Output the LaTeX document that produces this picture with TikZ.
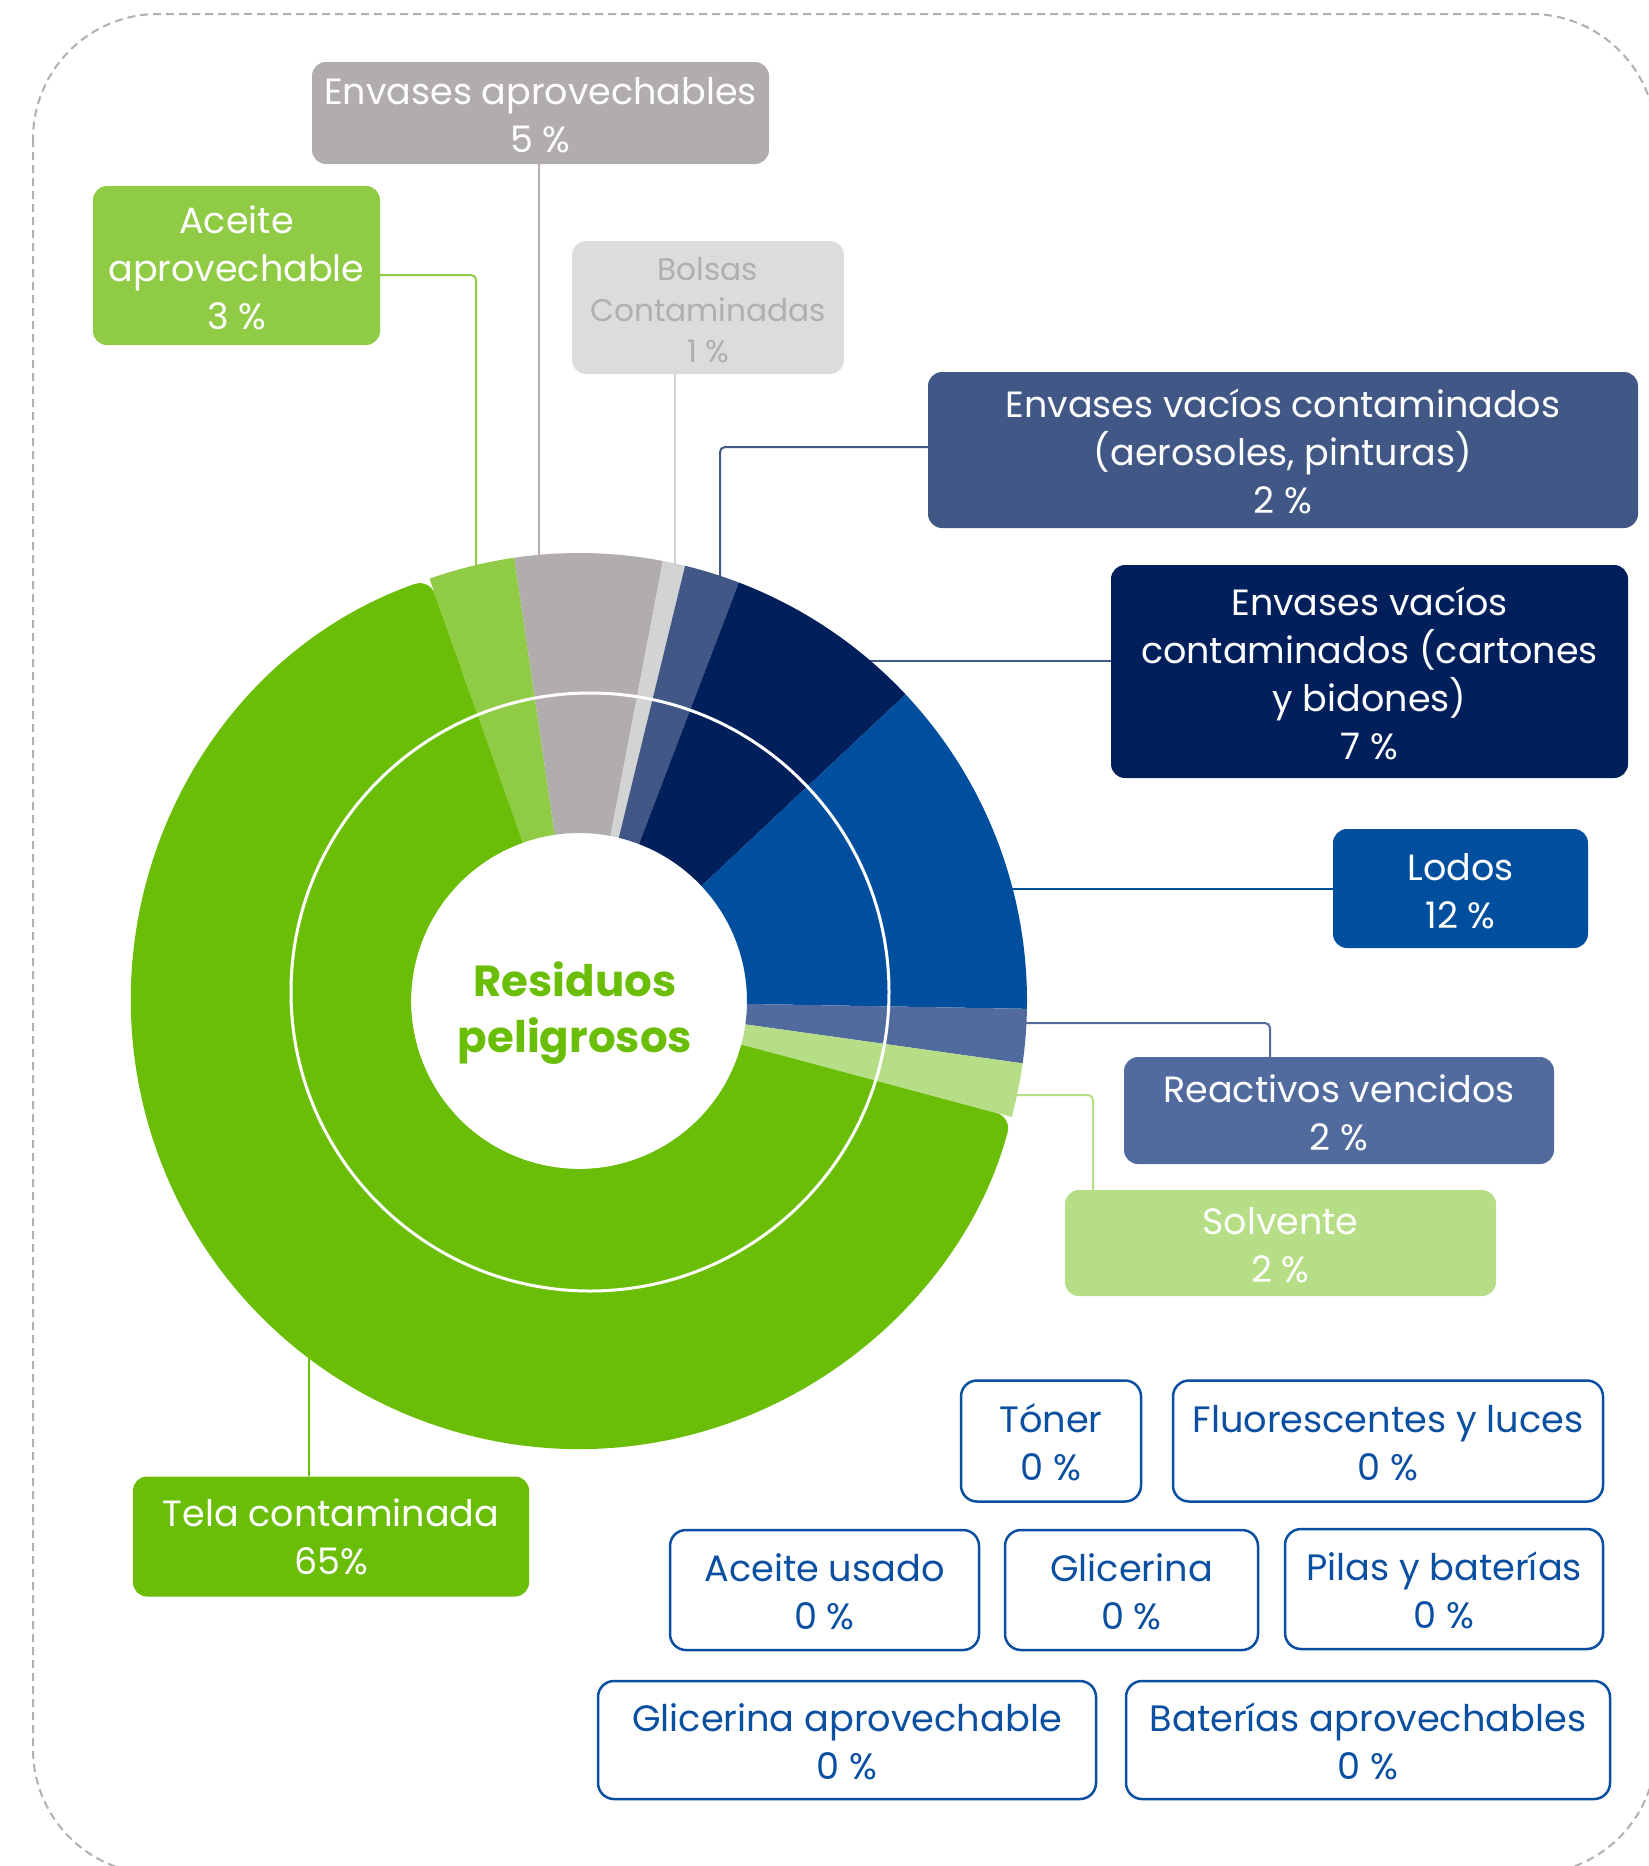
\documentclass[tikz,border=0pt]{standalone}
\usepackage{fontspec}
\setmainfont{Poppins}
\usetikzlibrary{positioning}
\definecolor{tela}{HTML}{6BBE07}
\definecolor{aceiteA}{HTML}{90CB45}
\definecolor{envA}{HTML}{B2ADAD}
\definecolor{bolsaP}{HTML}{D3D3D3}
\definecolor{bolsaB}{HTML}{DCDCDC}
\definecolor{bolsaT}{HTML}{B3AEAE}
\definecolor{aeros}{HTML}{415886}
\definecolor{carton}{HTML}{001F5B}
\definecolor{lodos}{HTML}{004F9E}
\definecolor{reac}{HTML}{516B9F}
\definecolor{solv}{HTML}{B6DE86}
\definecolor{zblue}{HTML}{0A4FA0}
\definecolor{bord}{HTML}{B0B0B0}
\newcommand{\seg}[4][448]{\fill[#2] (#3:168) -- (#3:#1) arc[start angle=#3, end angle=#4, radius=#1] -- (#4:168) arc[start angle=#4, end angle=#3, radius=168] -- cycle;}
\newcommand{\lift}{\rule{0pt}{32pt}}

\begin{document}
\begin{tikzpicture}[x=1pt,y=-1pt,
  lbl/.style={rounded corners=14pt, align=center, text=white, inner sep=0pt, font=\fontsize{36.5}{48}\selectfont},
  zbox/.style={draw=zblue, line width=2.5pt, rounded corners=16pt, align=center, text=zblue, inner sep=0pt, fill=white, minimum height=120pt, font=\fontsize{36.7}{48}\selectfont},
  ln/.style={draw=#1, line width=2pt, rounded corners=5pt}]
\useasboundingbox (0,0) rectangle (1649,1866);
\begin{scope}
\clip (0,0) rectangle (1649,1866);
\draw[bord, line width=2pt, dash pattern=on 8pt off 5pt, rounded corners=125pt] (33,14) rectangle (1656,1874);
\end{scope}

\node[lbl, fill=envA, minimum width=457pt, minimum height=102pt] (envAprov) at (540.5,113) {\lift Envases aprovechables\\5 \%};
\node[lbl, fill=aceiteA, minimum width=287pt, minimum height=159pt] (aceite) at (236.5,265.5) {\lift Aceite\\aprovechable\\3 \%};
\node[lbl, fill=bolsaB, text=bolsaT, minimum width=272pt, minimum height=133pt, font=\fontsize{31.2}{41}\selectfont] (bolsas) at (708,307.5) {\rule{0pt}{28pt}Bolsas\\Contaminadas\\1 \%};
\node[lbl, fill=aeros, minimum width=710pt, minimum height=156pt] (aeros) at (1283,450) {\lift Envases vacíos contaminados\\(aerosoles, pinturas)\\2 \%};
\node[lbl, fill=carton, minimum width=517pt, minimum height=213pt] (carton) at (1369.5,671.5) {\lift Envases vacíos\\contaminados (cartones\\y bidones)\\7 \%};
\node[lbl, fill=lodos, minimum width=255pt, minimum height=119pt] (lodos) at (1460.5,888.5) {\lift Lodos\\12 \%};
\node[lbl, fill=reac, minimum width=430pt, minimum height=107pt] (reac) at (1339,1110.5) {\lift Reactivos vencidos\\2 \%};
\node[lbl, fill=solv, minimum width=431pt, minimum height=106pt] (solv) at (1280.5,1243) {\lift Solvente\\2 \%};
\node[lbl, fill=tela, minimum width=396pt, minimum height=120pt] (tela) at (331,1536.5) {Tela contaminada\\65\%};

\node[zbox, minimum width=180pt, minimum height=121pt] (toner) at (1051,1441) {\lift Tóner\\0 \%};
\node[zbox, minimum width=430pt, minimum height=121pt] (fluor) at (1388,1441) {\lift Fluorescentes y luces\\0 \%};
\node[zbox, minimum width=309pt] (aceiteU) at (824.5,1590) {\lift Aceite usado\\0 \%};
\node[zbox, minimum width=253pt] (glic) at (1131.5,1590) {\lift Glicerina\\0 \%};
\node[zbox, minimum width=318pt] (pilas) at (1444,1589) {\lift Pilas y baterías\\0 \%};
\node[zbox, minimum width=498pt, minimum height=118pt] (glicA) at (847,1740) {\lift Glicerina aprovechable\\0 \%};
\node[zbox, minimum width=484pt, minimum height=118pt] (batA) at (1368,1740) {\lift Baterías aprovechables\\0 \%};

\coordinate (eEnv) at (539,580);
\coordinate (eAce) at (476,590);
\coordinate (eBol) at (675,580);
\coordinate (eAer) at (720,600);
\coordinate (eCar) at (855,661);
\coordinate (eLod) at (995,889);
\coordinate (eRea) at (1005,1023);
\coordinate (eSol) at (1000,1095);
\coordinate (eTel) at (309,1345);
\draw[ln=envA] (envAprov.south -| eEnv) -- (eEnv);
\draw[ln=aceiteA] (aceite.east |- 0,275) -| (eAce);
\draw[ln=bolsaP] (bolsas.south -| eBol) -- (eBol);
\draw[ln=aeros] (aeros.west |- 0,447) -| (eAer);
\draw[ln=aeros] (carton.west |- eCar) -- (eCar);
\draw[ln=lodos] (lodos.west |- eLod) -- (eLod);
\draw[ln=reac] (reac.north -| 1270,0) |- (eRea);
\draw[ln=solv] (solv.north -| 1093,0) |- (eSol);
\draw[ln=tela] (tela.north -| eTel) -- (eTel);

\begin{scope}[shift={(579,1001)}, yscale=-1]
\fill[tela] (109.5:168) [rounded corners=16pt] -- (109.5:448) arc[start angle=109.5, end angle=345, radius=448] -- (345:168) [sharp corners] arc[start angle=345, end angle=109.5, radius=168] -- cycle;
\seg[320]{tela}{109.5}{345}
\seg{aceiteA}{98.3}{109.5}
\seg{envA}{79.2}{98.3}
\seg{bolsaP}{76.3}{79.2}
\seg{aeros}{69.1}{76.3}
\seg{carton}{43.2}{69.1}
\seg{lodos}{-1}{43.2}
\seg{reac}{-8}{-1}
\seg{solv}{-15}{-8}
\end{scope}
\draw[white, line width=3pt] (590,992) circle[radius=299];
\node[font=\bfseries\fontsize{43.5}{56}\selectfont, text=tela, align=center] (centro) at (575,1013) {Residuos\\peligrosos};
\end{tikzpicture}
\end{document}
